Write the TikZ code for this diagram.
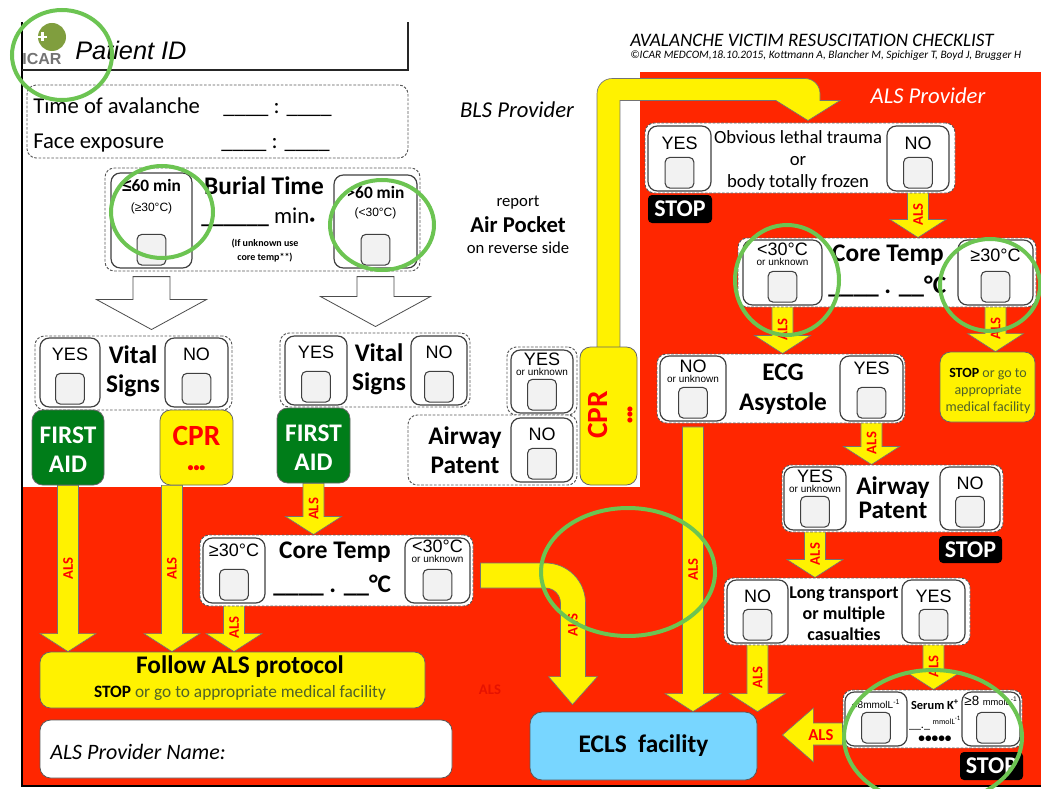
\documentclass[tikz,border=0pt]{standalone}
\usepackage{fontspec}
\setmainfont{Carlito}
\newfontfamily\arialf{Liberation Sans}
\usetikzlibrary{fit,calc}

\definecolor{alsred}{RGB}{255,38,0}
\definecolor{aidgreen}{RGB}{0,125,25}
\definecolor{eclsblue}{RGB}{120,214,255}
\definecolor{olivetxt}{RGB}{79,98,40}
\definecolor{annogreen}{RGB}{108,196,82}
\definecolor{logogreen}{RGB}{128,158,62}
\definecolor{faintred}{RGB}{230,18,0}

\pgfdeclarelayer{back}
\pgfsetlayers{back,main}

\newcommand{\fs}[2]{\fontsize{#1}{#2}\selectfont}

\tikzset{
  dashbox/.style={draw=black!65, dash pattern=on 2pt off 1.2pt, line width=0.7pt, rounded corners=7pt, fill=white, inner sep=0pt},
  optbox/.style={draw=black!75, line width=0.9pt, rounded corners=7pt, fill=white, inner sep=0pt},
  tickbox/.style={draw=black!75, line width=0.8pt, rounded corners=3.5pt, fill=black!5, minimum width=21.5pt, minimum height=23pt, inner sep=0pt},
  yarrow/.style={fill=yellow, draw=black!55, line width=0.5pt},
  hollow/.style={fill=white, draw=black!70, line width=0.6pt},
  alslbl/.style={text=red, font={\bfseries\fs{11}{11}}, rotate=90, inner sep=0pt},
  lbl/.style={font={\arialf\fs{13.5}{14}}, inner sep=0pt},
  sublbl/.style={font={\arialf\fs{7.5}{7.5}}, inner sep=0pt},
  bigb/.style={font={\bfseries\fs{19}{21.75}}, align=center, inner sep=0pt},
  aidbox/.style={fill=aidgreen, draw=black!60, line width=0.6pt, rounded corners=8pt, inner sep=0pt},
  cprbox/.style={fill=yellow, draw=black!60, line width=0.6pt, rounded corners=8pt, inner sep=0pt},
  stopbox/.style={fill=black, rounded corners=3pt, inner sep=0pt},
  stoptxt/.style={text=white, font={\bfseries\fs{18}{18}}, inner sep=0pt},
  anno/.style={draw=annogreen, line width=3pt},
}

% answer box with its tick square: name, x1, y1, x2, y2, label, sub label, label gap, sub gap
\newcommand{\optchoice}[9]{%
  \node[optbox, fit={(#2,#3) (#4,#5)}] (#1) {};
  \node[lbl, anchor=north] (#1-lbl) at ([yshift=-#8*0.75pt]#1.north) {#6};
  \node[sublbl, anchor=north] (#1-sub) at ([yshift=-#9*0.75pt]#1-lbl.south) {#7};
  \node[tickbox, anchor=south] (#1-box) at ([yshift=2.25pt]#1.south) {};}

% yellow ALS arrow pointing down
\newcommand{\alsdown}[2]{%
  \filldraw[yarrow] let \p1=(#1), \p2=(#2) in
    (\x1-7.9pt,\y1) -- (\x1+7.9pt,\y1) -- (\x1+7.9pt,\y2+13.5pt) -- (\x1+21pt,\y2+13.5pt)
    -- (\x1,\y2) -- (\x1-21pt,\y2+13.5pt) -- (\x1-7.9pt,\y2+13.5pt) -- cycle;
  \path let \p1=(#1), \p2=(#2) in node[alslbl] at (\x1,{0.5*(\y1+\y2)}) {ALS};}

% open white arrow of the BLS part
\newcommand{\openarrow}[2]{%
  \filldraw[hollow] let \p1=(#1.south), \p2=(#2.north) in
    (\x1-13.9pt,\y1-6pt) -- (\x1+13.9pt,\y1-6pt) -- (\x1+13.9pt,\y2+27pt) -- (\x1+41.25pt,\y2+27pt)
    -- (\x1,\y2+4.5pt) -- (\x1-41.25pt,\y2+27pt) -- (\x1-13.9pt,\y2+27pt) -- cycle;}

\begin{document}
\begin{tikzpicture}[x=0.75pt,y=-0.75pt]
\useasboundingbox (0,0) rectangle (1041,788);
\begin{pgfonlayer}{back}
\fill[white] (0,0) rectangle (1041,788);
\fill[alsred] (640,72) rectangle (1041,786);
\fill[alsred] (22,487) rectangle (640,786);
\end{pgfonlayer}

% frame
\draw[line width=1.2pt] (22,22) -- (22,786) -- (1041,786);
\draw[black!85, line width=0.9pt] (22,70) -- (408,70) -- (408,22);

% logo and header
\fill[logogreen] (52,37) circle[radius=14];
\draw[white, line width=1.6pt] (38,37) -- (47,37) (42.5,32.5) -- (42.5,41.5);
\node[font={\arialf\bfseries\fs{12}{12}}, text=black!55, inner sep=0pt] (icar) at (42,59) {ICAR};
\node[anchor=west, font={\arialf\itshape\fs{19}{19}}, inner sep=0pt] (pid) at (75,50) {Patient ID};
\node[anchor=west, font={\itshape\fs{14.3}{15}}, inner sep=0pt] (title) at (630,40) {AVALANCHE VICTIM RESUSCITATION CHECKLIST};
\node[anchor=west, font={\itshape\fs{8.5}{9}}, inner sep=0pt] (credit) at (630,56) {©ICAR MEDCOM,18.10.2015, Kottmann A, Blancher M, Spichiger T, Boyd J, Brugger H};
\node[font={\itshape\fs{17}{17}}, inner sep=0pt] (bls) at (517,110) {BLS Provider};
\node[font={\itshape\fs{17}{17}}, text=white, inner sep=0pt] (als) at (928,96) {ALS Provider};

% times
\node[dashbox, fit={(27,85) (408,158)}] (timebox) {};
\node[anchor=base west, font={\fs{17}{17}}, inner sep=0pt] (tav) at (33,114) {Time of avalanche};
\node[anchor=base, font={\fs{17}{17}}, inner sep=0pt] (tavb) at (277.5,114) {\_\_\_\_ : \_\_\_\_};
\node[anchor=base west, font={\fs{17}{17}}, inner sep=0pt] (fex) at (33,148) {Face exposure};
\node[anchor=base, font={\fs{17}{17}}, inner sep=0pt] (fexb) at (275.5,148) {\_\_\_\_ : \_\_\_\_};

% burial time
\node[dashbox, fit={(105,168) (420,271)}] (burial) {};
\optchoice{btl}{111}{173}{192}{268}{\rmfamily\bfseries\fs{13}{13}{\arialf ≤}60 min}{\fs{9}{9}(≥30°C)}{7}{10}
\optchoice{btr}{334}{175}{417}{268}{\rmfamily\bfseries\fs{13}{13}>60 min}{\fs{9}{9}(<30°C)}{12}{8}
\node[anchor=base, font={\bfseries\fs{19}{19}}, inner sep=0pt] (btime) at (264,194) {Burial Time};
\node[anchor=base west, font={\fs{17}{17}}, inner sep=0pt] (bmin) at (201,223) {{\bfseries\_\_\_\_\_\_} min{\fs{9}{9}•}};
\node[font={\bfseries\fs{7.5}{10.5}}, align=center, inner sep=0pt] (bunk) at (265,251) {(If unknown use\\core temp**)};

\node[font={\fs{12.5}{12.5}}, inner sep=0pt] (rep) at (518,203) {report};
\node[font={\bfseries\fs{17}{17}}, inner sep=0pt] (airp) at (518,225) {Air Pocket};
\node[font={\fs{12.5}{12.5}}, inner sep=0pt] (revs) at (518,248) {on reverse side};

% vital signs
\node[dashbox, fit={(35,336) (232,410)}] (vs1) {};
\optchoice{vs1y}{40}{338}{100}{407}{YES}{}{10}{0}
\optchoice{vs1n}{165}{338}{228}{407}{NO}{}{10}{0}
\node[bigb] (vs1t) at (133,371) {Vital\\Signs};
\node[dashbox, fit={(280,333) (470,407)}] (vs2) {};
\optchoice{vs2y}{285}{336}{347}{405}{YES}{}{10}{0}
\optchoice{vs2n}{411}{336}{467}{405}{NO}{}{10}{0}
\node[bigb] (vs2t) at (379,369) {Vital\\Signs};
\openarrow{btl}{vs1}
\openarrow{btr}{vs2}

\node[aidbox, fit={(32,410) (104,485)}] (fa1) {};
\node[bigb, text=white] (fa1t) at ([yshift=-1.5pt]fa1) {FIRST\\AID};
\node[cprbox, fit={(160,410) (233,485)}] (cpr1) {};
\node[font={\bfseries\fs{22}{19}}, text=red, align=center, inner sep=0pt] (cpr1t) at ([yshift=-1pt]cpr1) {CPR\\{\fs{9}{9}•••}};
\node[aidbox, fit={(277,408) (350,483)}] (fa2) {};
\node[bigb, text=white] (fa2t) at ([yshift=-1.5pt]fa2) {FIRST\\AID};

% airway, BLS side
\node[dashbox, fit={(507,347) (577,415)}] (aw1u) {};
\node[dashbox, fit={(408,415) (577,485)}] (aw1) {};
\optchoice{aw1y}{511}{350}{573}{413}{YES}{or unknown}{3}{2}
\optchoice{aw1n}{511}{418}{573}{482}{NO}{}{10}{0}
\node[bigb] (aw1t) at (465,450) {Airway\\Patent};
\node[cprbox, fit={(580,347) (637,485)}] (cprv) {};
\node[font={\bfseries\fs{22}{19}}, text=red, align=center, rotate=90, inner sep=0pt] (cprvt) at (611,415) {CPR\\{\fs{9}{9}•••}};

% ALS side
\node[dashbox, fit={(645,123) (955,193)}] (olt) {};
\optchoice{olty}{648}{126}{711}{191}{YES}{}{11}{0}
\optchoice{oltn}{887}{126}{949}{191}{NO}{}{11}{0}
\node[font={\fs{14}{16.5}}, align=center, inner sep=0pt] (oltt) at (798,161) {Obvious lethal trauma\\or\\body totally frozen};
\node[stopbox, fit={(648,195) (712,223)}] (stop1) {};
\node[stoptxt] (stop1t) at (stop1) {STOP};

\node[dashbox, fit={(738,238) (1036,307)}] (ct2) {};
\optchoice{ct2l}{743}{240}{822}{305}{<30°C}{or unknown}{3}{2}
\optchoice{ct2r}{958}{240}{1033}{305}{≥30°C}{}{9}{0}
\node[font={\bfseries\fs{19}{19}}, inner sep=0pt] (ct2t) at (888,255) {Core Temp};
\node[anchor=base west, font={\bfseries\fs{19}{19}}, inner sep=0pt] (ct2v) at (828,293) {\_\_\_\_ . \_\_°C};

\node[cprbox, fit={(940,352) (1035,422)}] (stopgo) {};
\node[font={\fs{10.5}{12.75}}, text=olivetxt, align=center, inner sep=0pt] (stopgot) at (988,391) {{\bfseries\color{black}STOP} or go to\\appropriate\\medical facility};

\node[dashbox, fit={(657,354) (905,423)}] (ecg) {};
\optchoice{ecgn}{660}{356}{726}{421}{NO}{or unknown}{4}{2}
\optchoice{ecgy}{840}{356}{903}{421}{YES}{}{6}{0}
\node[font={\bfseries\fs{19}{22.5}}, align=center, inner sep=0pt] (ecgt) at (783,389) {ECG\\Asystole};

\node[dashbox, fit={(782,465) (1003,532)}] (aw2) {};
\optchoice{aw2y}{784}{467}{846}{530}{YES}{or unknown}{3}{2}
\optchoice{aw2n}{940}{467}{1000}{530}{NO}{}{10}{0}
\node[font={\bfseries\fs{19}{18}}, align=center, inner sep=0pt] (aw2t) at (893,498) {Airway\\Patent};
\node[stopbox, fit={(939,536) (1002,563)}] (stop2) {};
\node[stoptxt] (stop2t) at (stop2) {STOP};

\node[dashbox, fit={(724,578) (970,645)}] (lt) {};
\optchoice{ltn}{727}{580}{788}{643}{NO}{}{10}{0}
\optchoice{lty}{902}{580}{965}{643}{YES}{}{10}{0}
\node[font={\bfseries\fs{13.5}{15.75}}, align=center, inner sep=0pt] (ltt) at (844,614) {Long transport\\or multiple\\casualties};

\node[dashbox, fit={(843,690) (1022,748)}] (sk) {};
\optchoice{skl}{845}{692}{907}{746}{\fs{7.5}{8}<8mmolL\textsuperscript{-1}}{}{8}{0}
\optchoice{skr}{962}{692}{1020}{746}{\fs{10}{10}≥8 {\fs{7}{7}mmolL\textsuperscript{-1}}}{}{5}{0}
\node[font={\bfseries\fs{9.3}{9.3}}, inner sep=0pt] (skt) at (935,705) {Serum K\textsuperscript{+}};
\node[font={\fs{9}{9}}, inner sep=0pt] (skv) at (935,723) {\_\_.\_ {\fs{6}{6}\raisebox{3pt}{mmolL\textsuperscript{-1}}}};
\node[font={\bfseries\fs{10}{10}}, inner sep=0pt] (skd) at (935,739) {•••••};
\node[stopbox, fit={(960,752) (1023,780)}] (stop3) {};
\node[stoptxt] (stop3t) at (stop3) {STOP};

\node[fill=eclsblue, draw=black!65, line width=0.6pt, rounded corners=9pt, inner sep=0pt, fit={(530,712) (757,780)}] (ecls) {};
\node[font={\bfseries\fs{19}{19}}, inner sep=0pt] (eclst) at (ecls) {ECLS~~facility};

% core temp, lower BLS part
\node[dashbox, fit={(200,535) (473,606)}] (ct1) {};
\optchoice{ct1a}{203}{538}{265}{603}{≥30°C}{}{6}{0}
\optchoice{ct1b}{405}{538}{470}{603}{<30°C}{or unknown}{2}{2}
\node[font={\bfseries\fs{19}{19}}, inner sep=0pt] (ct1t) at (335,552) {Core Temp};
\node[anchor=base west, font={\bfseries\fs{19}{19}}, inner sep=0pt] (ct1v) at (273,592) {\_\_\_\_ . \_\_°C};

\node[cprbox, fit={(40,652) (425,708)}] (follow) {};
\node[font={\bfseries\fs{19}{19}}, inner sep=0pt] (followt) at (240,667) {Follow ALS protocol};
\node[font={\fs{13}{13}}, text=olivetxt, inner sep=0pt] (followg) at (240,693) {{\bfseries\color{black}STOP} or go to appropriate medical facility};
\node[fill=white, draw=black!65, line width=0.6pt, rounded corners=8pt, inner sep=0pt, fit={(40,720) (452,778)}] (namebox) {};
\node[anchor=west, font={\itshape\fs{16.5}{16.5}}, inner sep=0pt] (namet) at (50,752) {ALS Provider Name:};
\node[text=faintred, font={\bfseries\fs{11}{11}}, inner sep=0pt] (faintals) at (490,690) {ALS};

% yellow connectors
\begin{pgfonlayer}{back}
\filldraw[yarrow] let \p1=(cprv.north), \p2=(olt.north) in
  (\x1-8.6pt,\y1-2pt) -- (\x1-8.6pt,\y2+21.75pt) arc[start angle=180, end angle=90, radius=11.25pt]
  -- (\x2+3.75pt,\y2+33pt) arc[start angle=90, end angle=0, radius=11.25pt]
  -- (\x2+15pt,\y2+16.5pt) -- (\x2+30pt,\y2+16.5pt) -- (\x2+6pt,\y2+1.5pt) -- (\x2-18pt,\y2+16.5pt)
  -- (\x1+8.6pt,\y2+16.5pt) -- (\x1+8.6pt,\y1-2pt) -- cycle;
\alsdown{fa1.south}{follow.north}
\alsdown{[xshift=-18.4pt]cpr1.south}{follow.north}
\alsdown{fa2.south}{ct1.north}
\alsdown{ct1a.south}{follow.north}
\alsdown{oltn.south}{ct2.north}
\alsdown{ct2l.south}{ecg.north}
\alsdown{ct2r.south}{stopgo.north}
\alsdown{[yshift=-4pt]ecgn.south}{ecls.north}
\alsdown{ecgy.south}{aw2.north}
\alsdown{aw2y.south}{lt.north}
\alsdown{ltn.south}{ecls.north}
\alsdown{lty.south}{sk.north}
\filldraw[yarrow] let \p1=(ct1.east), \p2=(ecls.north) in
  (\x1+5.25pt,\y1+5.625pt) -- (\x1+54pt,\y1+5.625pt) arc[start angle=90, end angle=0, radius=30pt]
  -- (\x1+84pt,\y2+26.25pt) -- (\x1+93pt,\y2+26.25pt) -- (\x1+74.25pt,\y2+5.25pt) -- (\x1+56.25pt,\y2+26.25pt)
  -- (\x1+65.25pt,\y2+26.25pt) -- (\x1+65.25pt,\y1-24.375pt) arc[start angle=0, end angle=90, radius=11.25pt]
  -- (\x1+5.25pt,\y1-13.125pt) -- cycle;
\path let \p1=(ct1.east) in node[alslbl] (curvlbl) at (\x1+74.6pt,\y1-40.9pt) {ALS};
\filldraw[yarrow] let \p1=(sk.west), \p2=(ecls.east) in
  (\x1,\y1-3pt) -- (\x2+42pt,\y1-3pt) -- (\x2+42pt,\y1+8.25pt) -- (\x2+18.75pt,\y1-12pt)
  -- (\x2+42pt,\y1-32.25pt) -- (\x2+42pt,\y1-19.5pt) -- (\x1,\y1-19.5pt) -- cycle;
\path let \p1=(sk.west), \p2=(ecls.east) in node[text=red, font={\bfseries\fs{12.5}{12.5}}, inner sep=0pt] (leftlbl) at (\x2+47.6pt,\y1-12pt) {ALS};
\end{pgfonlayer}

% green marks
\draw[anno] (62,55) ellipse[x radius=50, y radius=45];
\draw[anno] (162,212) ellipse[x radius=51, y radius=46];
\draw[anno] (382,225) ellipse[x radius=52, y radius=45];
\draw[anno] (787,280) ellipse[x radius=52, y radius=55];
\draw[anno] (990,285) ellipse[x radius=50, y radius=46];
\draw[anno] (628,572) ellipse[x radius=87, y radius=64];
\draw[anno] (933,737) ellipse[x radius=89, y radius=67];
\end{tikzpicture}
\end{document}
